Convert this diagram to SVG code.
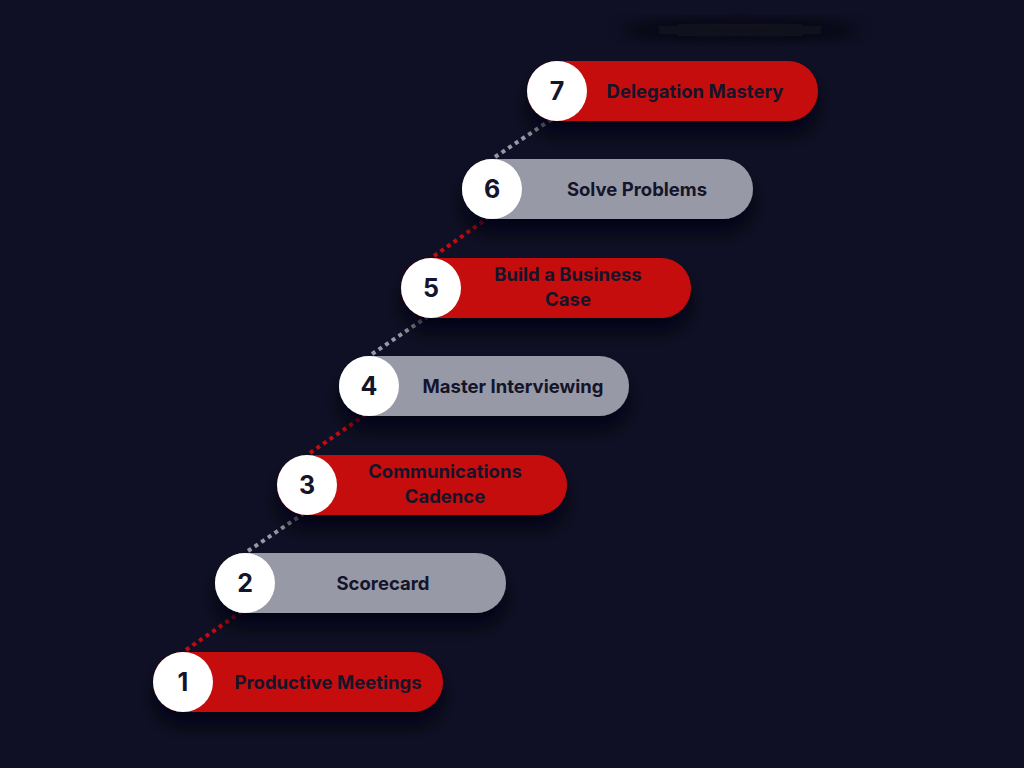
<svg xmlns="http://www.w3.org/2000/svg" width="1024" height="768" viewBox="0 0 1024 768">
<defs>
<filter id="sh" x="-30%" y="-50%" width="160%" height="250%"><feDropShadow dx="0" dy="14" stdDeviation="9" flood-color="#05050f" flood-opacity="0.8"/></filter>
<filter id="bl" x="-50%" y="-50%" width="200%" height="200%"><feGaussianBlur stdDeviation="8"/></filter>
<style>
.red{fill:#c50b0e}.grey{fill:#9799a6}
.c{fill:#ffffff}
.t{font-family:Inter,"Liberation Sans",sans-serif;font-weight:700;font-size:18.5px;fill:#14142a;text-anchor:middle}
.n{font-family:Inter,"Liberation Sans",sans-serif;font-weight:700;font-size:25px;fill:#14142a;text-anchor:middle}
.lr{stroke:#c50b0e;stroke-width:4;stroke-dasharray:4 4}
.lg{stroke:#9799a6;stroke-width:4;stroke-dasharray:4 4}
</style>
</defs>
<rect width="1024" height="768" fill="#0f1025"/>
<ellipse cx="740" cy="30" rx="120" ry="8" fill="#07070f" filter="url(#bl)" opacity="0.8"/>
<g id="connectors">
<line class="lr" x1="186" y1="650" x2="241" y2="612"/>
<line class="lg" x1="248" y1="551" x2="303" y2="514"/>
<line class="lr" x1="310" y1="453" x2="365" y2="415"/>
<line class="lg" x1="372" y1="354" x2="427" y2="317"/>
<line class="lr" x1="434" y1="256" x2="488" y2="218"/>
<line class="lg" x1="495" y1="157" x2="552" y2="119"/>
</g>
<g id="n1"><rect class="red" x="153" y="652" width="290" height="60" rx="30" filter="url(#sh)"/><circle class="c" cx="183" cy="682" r="30"/><text class="n" x="183" y="691">1</text><text class="t" x="328" y="689">Productive Meetings</text></g>
<g id="n2"><rect class="grey" x="215" y="553" width="291" height="60" rx="30" filter="url(#sh)"/><circle class="c" cx="245" cy="583" r="30"/><text class="n" x="245" y="592">2</text><text class="t" x="383" y="590">Scorecard</text></g>
<g id="n3"><rect class="red" x="277" y="455" width="290" height="60" rx="30" filter="url(#sh)"/><circle class="c" cx="307" cy="485" r="30"/><text class="n" x="307" y="494">3</text><text class="t" x="445" y="478">Communications</text><text class="t" x="445" y="503">Cadence</text></g>
<g id="n4"><rect class="grey" x="339" y="356" width="290" height="60" rx="30" filter="url(#sh)"/><circle class="c" cx="369" cy="386" r="30"/><text class="n" x="369" y="395">4</text><text class="t" x="513" y="393">Master Interviewing</text></g>
<g id="n5"><rect class="red" x="401" y="258" width="290" height="60" rx="30" filter="url(#sh)"/><circle class="c" cx="431" cy="288" r="30"/><text class="n" x="431" y="297">5</text><text class="t" x="568" y="281">Build a Business</text><text class="t" x="568" y="306">Case</text></g>
<g id="n6"><rect class="grey" x="462" y="159" width="291" height="60" rx="30" filter="url(#sh)"/><circle class="c" cx="492" cy="189" r="30"/><text class="n" x="492" y="198">6</text><text class="t" x="637" y="196">Solve Problems</text></g>
<g id="n7"><rect class="red" x="527" y="61" width="291" height="60" rx="30" filter="url(#sh)"/><circle class="c" cx="557" cy="91" r="30"/><text class="n" x="557" y="100">7</text><text class="t" x="695" y="98">Delegation Mastery</text></g>
</svg>
